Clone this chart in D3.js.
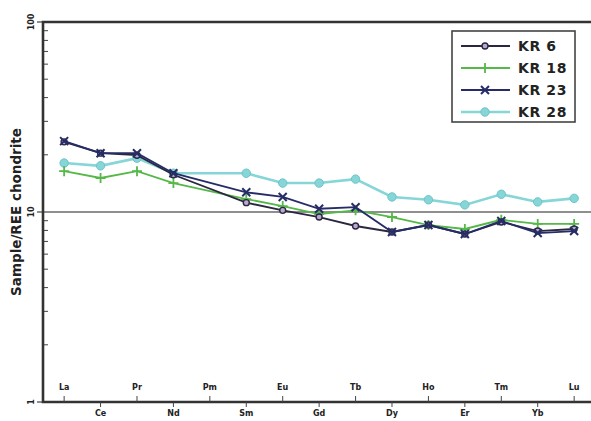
<!DOCTYPE html>
<html>
<head>
<meta charset="utf-8">
<script src="https://cdn.jsdelivr.net/npm/d3@7/dist/d3.min.js"></script>
<style>
  body { margin: 0; background: #fff; }
  text { font-family: "DejaVu Sans", sans-serif; font-weight: bold; fill: #222; }
</style>
</head>
<body>
<div id="renderer"></div>
<script>
// REE elements along the x axis
const elements = ["La", "Ce", "Pr", "Nd", "Pm", "Sm", "Eu", "Gd", "Tb", "Dy", "Ho", "Er", "Tm", "Yb", "Lu"];

// chondrite-normalised values (null = not analysed, Pm)
const kr6  = [23.4, 20.4, 19.9, 15.7, null, 11.2, 10.2, 9.41, 8.44, 7.85, 8.54, 7.66, 8.86, 7.94, 8.14];
const kr18 = [16.4, 15.1, 16.4, 14.2, null, 11.7, 10.75, 9.76, 10.2, 9.41, 8.54, 8.14, 9.1, 8.65, 8.65];
const kr23 = [23.6, 20.4, 20.4, 16.0, null, 12.7, 12.0, 10.4, 10.6, 7.85, 8.54, 7.66, 8.97, 7.75, 7.94];
const kr28 = [18.1, 17.5, 19.2, 16.0, null, 16.0, 14.2, 14.2, 14.9, 12.0, 11.6, 10.9, 12.4, 11.3, 11.8];

const yTickLabels = [1, 10, 100];

const series = [
    { name: "KR 6",  values: kr6,  color: "#2a2740", marker: "circle" },
    { name: "KR 18", values: kr18, color: "#55b848", marker: "plus" },
    { name: "KR 23", values: kr23, color: "#262c66", marker: "cross" },
    { name: "KR 28", values: kr28, color: "#86d6d8", marker: "dot" }
];

const width = 591;
const height = 421;
const mLeft = 43, mTop = 22, mBottom = 402, mRight = 596;

const svg = d3.select("#renderer")
    .append("svg")
    .attr("width", width)
    .attr("height", height);

const x = d3.scaleLinear()
    .domain([-0.58, elements.length - 1 + 0.6])
    .range([mLeft, mRight]);

const y = d3.scaleLog()
    .domain([1, 100])
    .range([mBottom, mTop]);

// reference line at 10
svg.append("line")
    .attr("x1", mLeft).attr("x2", width)
    .attr("y1", y(10)).attr("y2", y(10))
    .attr("stroke", "#6a6a6a")
    .attr("stroke-width", 1.6);

// minor log ticks on the left axis (inside)
const minor = [];
for (let d = 1; d < 100; d *= 10) {
    for (let k = 2; k <= 9; k++) minor.push(d * k);
}
svg.selectAll("line.minor")
    .data(minor)
    .join("line")
    .attr("class", "minor")
    .attr("x1", mLeft).attr("x2", mLeft + 5)
    .attr("y1", d => y(d)).attr("y2", d => y(d))
    .attr("stroke", "#444")
    .attr("stroke-width", 1);

// major ticks pointing out
svg.selectAll("line.major")
    .data(yTickLabels)
    .join("line")
    .attr("class", "major")
    .attr("x1", mLeft - 6).attr("x2", mLeft)
    .attr("y1", d => y(d)).attr("y2", d => y(d))
    .attr("stroke", "#444")
    .attr("stroke-width", 1.2);

svg.selectAll("text.ylab")
    .data(yTickLabels)
    .join("text")
    .attr("class", "ylab")
    .attr("transform", d => `translate(${mLeft - 9},${y(d)}) rotate(-90)`)
    .attr("text-anchor", "middle")
    .attr("font-size", "8px")
    .text(d => d);

// y axis title
svg.append("text")
    .attr("transform", `translate(21,${(mTop + mBottom) / 2}) rotate(-90)`)
    .attr("text-anchor", "middle")
    .attr("font-size", "13.5px")
    .text("Sample/REE chondrite");

// frame: left, top, bottom
svg.append("path")
    .attr("d", `M${width},${mTop}H${mLeft}V${mBottom}H${width}`)
    .attr("fill", "none")
    .attr("stroke", "#333")
    .attr("stroke-width", 2.6);

// x ticks and labels, alternating above / below
elements.forEach((el, i) => {
    const up = i % 2 === 0;
    svg.append("line")
        .attr("x1", x(i)).attr("x2", x(i))
        .attr("y1", up ? mBottom - 6 : mBottom)
        .attr("y2", up ? mBottom : mBottom + 5)
        .attr("stroke", "#444")
        .attr("stroke-width", 1);
    svg.append("text")
        .attr("x", x(i))
        .attr("y", up ? mBottom - 12 : mBottom + 14)
        .attr("text-anchor", "middle")
        .attr("font-size", "8px")
        .text(el);
});

const line = d3.line()
    .x(d => x(d.i))
    .y(d => y(d.v));

function drawMarker(g, type, color, cx, cy) {
    if (type === "circle") {
        g.append("circle").attr("cx", cx).attr("cy", cy).attr("r", 3)
            .attr("fill", "#b9a9d0").attr("stroke", color).attr("stroke-width", 1.4);
    } else if (type === "dot") {
        g.append("circle").attr("cx", cx).attr("cy", cy).attr("r", 4.2)
            .attr("fill", color).attr("stroke", "#6cc4c8").attr("stroke-width", 1);
    } else if (type === "plus") {
        g.append("path").attr("d", `M${cx - 5},${cy}H${cx + 5}M${cx},${cy - 5}V${cy + 5}`)
            .attr("stroke", color).attr("stroke-width", 1.8);
    } else {
        g.append("path").attr("d", `M${cx - 4},${cy - 4}L${cx + 4},${cy + 4}M${cx - 4},${cy + 4}L${cx + 4},${cy - 4}`)
            .attr("stroke", color).attr("stroke-width", 2);
    }
}

// draw series (cyan first, darks last on top)
[series[3], series[1], series[0], series[2]].forEach(s => {
    // Pm has no value: connect Nd to Sm directly
    const drawn = s.values.map((v, i) => ({ i, v })).filter(d => d.v != null);
    svg.append("path")
        .datum(drawn)
        .attr("d", line)
        .attr("fill", "none")
        .attr("stroke", s.color)
        .attr("stroke-width", s.marker === "dot" ? 2.6 : 1.8);
    const g = svg.append("g");
    drawn.forEach(d => drawMarker(g, s.marker, s.color, x(d.i), y(d.v)));
});

// legend
const lg = svg.append("g");
lg.append("rect")
    .attr("x", 452).attr("y", 31)
    .attr("width", 123).attr("height", 91)
    .attr("fill", "#fff")
    .attr("stroke", "#444")
    .attr("stroke-width", 1.6);
series.forEach((s, i) => {
    const ly = 46 + i * 22;
    lg.append("line")
        .attr("x1", 461).attr("x2", 510)
        .attr("y1", ly).attr("y2", ly)
        .attr("stroke", s.color)
        .attr("stroke-width", s.marker === "dot" ? 2.6 : 1.8);
    drawMarker(lg, s.marker, s.color, 485, ly);
    lg.append("text")
        .attr("x", 518).attr("y", ly + 5)
        .attr("font-size", "14px")
        .attr("letter-spacing", "0.6px")
        .text(s.name);
});
</script>
</body>
</html>
